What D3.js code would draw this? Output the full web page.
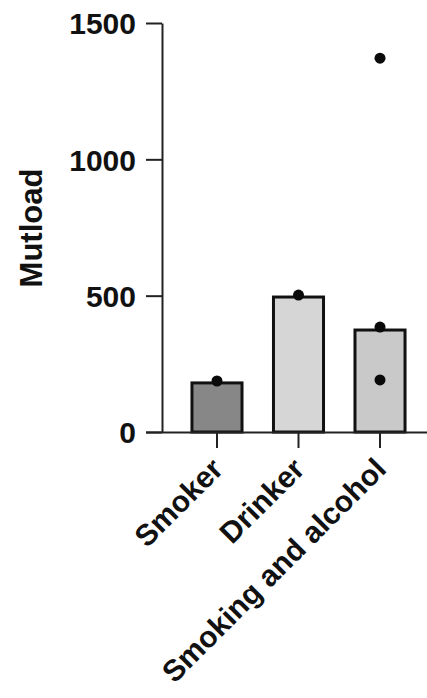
<!DOCTYPE html>
<html>
<head>
<meta charset="utf-8">
<script src="https://cdn.jsdelivr.net/npm/d3@7"></script>
<style>
  body { margin: 0; background: #fff; }
  text { font-family: "Liberation Sans", Arial, sans-serif; font-weight: bold; }
</style>
</head>
<body>
<div id="chart"></div>
<script>
// values
const groups = ["Smoker", "Drinker", "Smoking and alcohol"];
const barValues = [180, 495, 374];
const barColors = ["#878787", "#d6d6d6", "#c9c9c9"];
const pointGroups = ["Smoker", "Drinker", "Smoking and alcohol", "Smoking and alcohol", "Smoking and alcohol"];
const pointValues = [187, 502, 1371, 385, 191];
const yTicks = [0, 500, 1000, 1500];

const width = 427;
const height = 698;

const svg = d3.select("#chart")
  .append("svg")
  .attr("width", width)
  .attr("height", height);

const y = d3.scaleLinear().domain([0, 1500]).range([432, 23]);
const x = d3.scaleBand().domain(groups).range([160.5, 436.5]).padding(0.386);

// bars
svg.append("g")
  .selectAll("rect")
  .data(groups)
  .join("rect")
  .attr("x", d => x(d))
  .attr("y", (d, i) => y(barValues[i]))
  .attr("width", x.bandwidth())
  .attr("height", (d, i) => y(0) - y(barValues[i]))
  .attr("fill", (d, i) => barColors[i])
  .attr("stroke", "#111")
  .attr("stroke-width", 3);

// y axis
const yAxis = svg.append("g")
  .attr("transform", "translate(162,0)")
  .call(d3.axisLeft(y).tickValues(yTicks).tickFormat(d3.format("d"))
    .tickSize(16).tickSizeOuter(0).tickPadding(10));
yAxis.select(".domain").attr("stroke", "#222").attr("stroke-width", 2);
yAxis.selectAll(".tick line").attr("stroke", "#222").attr("stroke-width", 2);
yAxis.selectAll(".tick text")
  .attr("fill", "#111")
  .style("font-size", "30px")
  .attr("dy", "0.36em");

// x axis
const xAxis = svg.append("g")
  .attr("transform", "translate(0,432)")
  .call(d3.axisBottom(x).tickSize(16).tickSizeOuter(0));
xAxis.select(".domain")
  .attr("d", "M146,0.5H427")
  .attr("stroke", "#222").attr("stroke-width", 2);
xAxis.selectAll(".tick line").attr("stroke", "#222").attr("stroke-width", 2);
xAxis.selectAll(".tick text")
  .attr("fill", "#111")
  .style("font-size", "30px")
  .attr("text-anchor", "end")
  .attr("x", -22)
  .attr("y", 33)
  .attr("dy", 0)
  .attr("transform", "rotate(-45)");

// points
svg.append("g")
  .selectAll("circle")
  .data(pointValues)
  .join("circle")
  .attr("cx", (d, i) => x(pointGroups[i]) + x.bandwidth() / 2)
  .attr("cy", d => y(d))
  .attr("r", 5.5)
  .attr("fill", "#0a0a0a");

// y label
svg.append("text")
  .attr("transform", "translate(42,228) rotate(-90)")
  .attr("text-anchor", "middle")
  .attr("fill", "#111")
  .style("font-size", "31px")
  .text("Mutload");
</script>
</body>
</html>
